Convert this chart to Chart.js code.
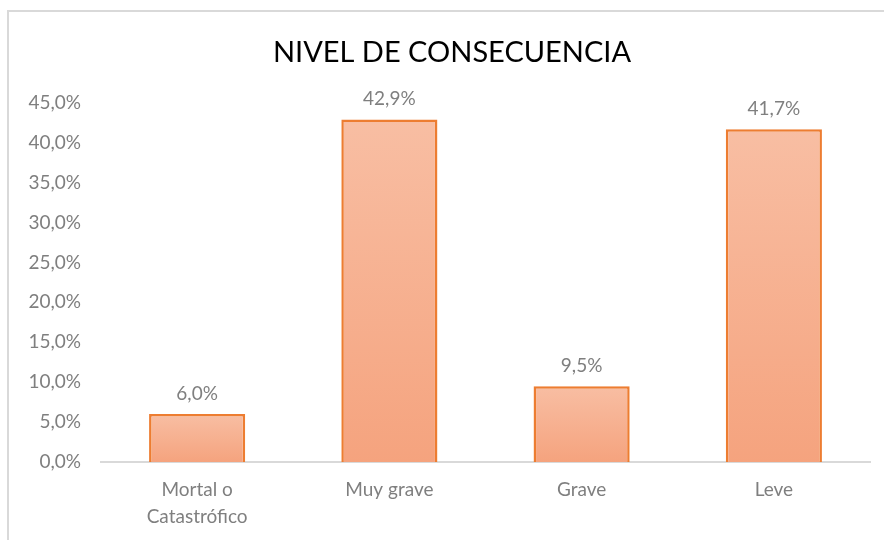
<!DOCTYPE html>
<html>
<head>
<meta charset="utf-8">
<script src="https://cdn.jsdelivr.net/npm/chart.js@4"></script>
<style>
  html, body { margin: 0; padding: 0; background: #fff; }
  #wrap { position: relative; width: 884px; height: 540px; }
  #frame { position: absolute; left: 7px; top: 10px; right: -10px; bottom: -10px;
           border-top: 2px solid #d9d9d9; border-left: 2px solid #d9d9d9; pointer-events: none; }
  canvas { position: absolute; left: 0; top: 0; }
</style>
</head>
<body>
<div id="wrap">
  <canvas id="bar-chart" width="884" height="540"></canvas>
  <div id="frame"></div>
</div>
<script>
const categories = [["Mortal o", "Catastrófico"], "Muy grave", "Grave", "Leve"];
const percentages = [6.0, 42.9, 9.5, 41.7];
const chartTitle = "NIVEL DE CONSECUENCIA";

const fmt = v => v.toFixed(1).replace('.', ',') + '%';
const FONT = "Lato, 'Open Sans', sans-serif";

// per-bar vertical gradient like the Excel fill
function barFill(ctx) {
  const chart = ctx.chart;
  if (!chart.chartArea) return '#f6b394';
  const y = chart.scales.y;
  const top = y.getPixelForValue(ctx.raw);
  const bottom = y.getPixelForValue(0);
  const g = chart.ctx.createLinearGradient(0, top, 0, bottom);
  g.addColorStop(0, '#f8bea3');
  g.addColorStop(1, '#f5a37e');
  return g;
}

const valueLabels = {
  id: 'valueLabels',
  afterDatasetsDraw(chart) {
    const c = chart.ctx;
    const meta = chart.getDatasetMeta(0);
    c.save();
    c.font = "19px " + FONT;
    c.fillStyle = '#7f7f7f';
    c.textAlign = 'center';
    c.textBaseline = 'bottom';
    meta.data.forEach((bar, i) => {
      c.fillText(fmt(percentages[i]), bar.x, bar.y - 11);
    });
    c.restore();
  }
};

// nudge the title a bit right, Excel centres it on the whole frame
const titleShift = {
  id: 'titleShift',
  afterLayout(chart) {
    if (chart.titleBlock) chart.titleBlock.left = 34;
  }
};

const ctz = document.getElementById('bar-chart');

new Chart(ctz, {
  type: 'bar',
  data: {
    labels: categories,
    datasets: [{
      label: chartTitle,
      data: percentages,
      backgroundColor: barFill,
      borderColor: '#ed7d31',
      borderWidth: 2.5,
      borderSkipped: 'bottom',
      barPercentage: 0.5,
      categoryPercentage: 1
    }]
  },
  options: {
    responsive: false,
    animation: false,
    layout: { padding: { left: 0, right: 14, top: 0, bottom: 0 } },
    plugins: {
      legend: { display: false },
      tooltip: { enabled: false },
      title: {
        display: true,
        text: chartTitle,
        color: '#000',
        font: { family: FONT, size: 29, weight: 'normal' },
        padding: { top: 35, bottom: 33 }
      }
    },
    scales: {
      x: {
        grid: { display: false, drawTicks: false },
        border: { color: '#d9d9d9', width: 2 },
        ticks: { color: '#7f7f7f', font: { family: FONT, size: 19, lineHeight: 1.4 }, padding: 15 },
        afterFit(s) { s.height = 78; }
      },
      y: {
        min: 0,
        max: 45,
        grid: { display: false, drawTicks: false },
        border: { display: false },
        ticks: {
          stepSize: 5,
          color: '#7f7f7f',
          font: { family: FONT, size: 19 },
          padding: 20,
          callback: v => fmt(v)
        },
        afterFit(s) { s.width = 101; }
      }
    }
  },
  plugins: [valueLabels, titleShift]
});
</script>
</body>
</html>
